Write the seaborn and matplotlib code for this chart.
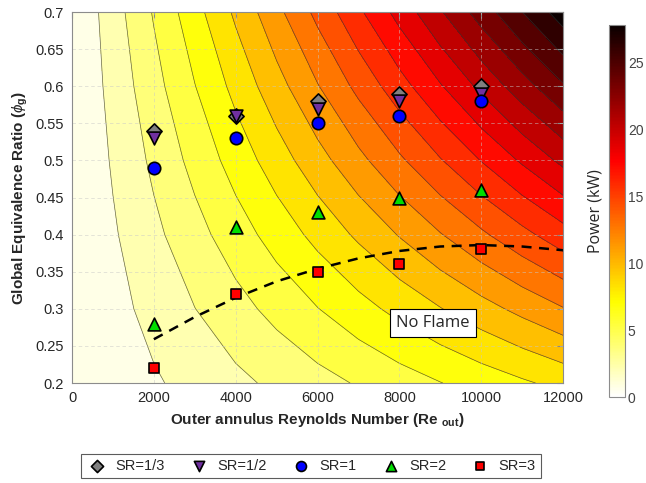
import numpy as np
import pandas as pd
import matplotlib
matplotlib.use("Agg")
import matplotlib.pyplot as plt
import seaborn as sns
from matplotlib.colors import Normalize
from matplotlib.cm import ScalarMappable

# ---- data ----
re_vals = [2000, 4000, 6000, 8000, 10000]
sr_labels = ["SR=1/3", "SR=1/2", "SR=1", "SR=2", "SR=3"]
phi_sr13 = [0.54, 0.56, 0.58, 0.59, 0.60]
phi_sr12 = [0.53, 0.56, 0.57, 0.58, 0.59]
phi_sr1 = [0.49, 0.53, 0.55, 0.56, 0.58]
phi_sr2 = [0.28, 0.41, 0.43, 0.45, 0.46]
phi_sr3 = [0.22, 0.32, 0.35, 0.36, 0.38]

# dashed flame-limit curve
limit_re = [2000, 3000, 4000, 5000, 6000, 7000, 8000, 9000, 10000, 11000, 12000]
limit_phi = [0.259, 0.289, 0.315, 0.337, 0.354, 0.368, 0.378, 0.384, 0.386, 0.384, 0.379]

# power field (kW) ~ k * Re * phi on a coarse grid
power_max = 27.8
grid_re = np.linspace(0, 12000, 13)
grid_phi = np.linspace(0.2, 0.7, 6)
levels = np.arange(0, 28.6, 1.5)

xticks = [0, 2000, 4000, 6000, 8000, 10000, 12000]
yticks = [0.2, 0.25, 0.3, 0.35, 0.4, 0.45, 0.5, 0.55, 0.6, 0.65, 0.7]
ytick_labels = ["0.2", "0.25", "0.3", "0.35", "0.4", "0.45", "0.5", "0.55", "0.6", "0.65", "0.7"]
cbar_ticks = [0, 5, 10, 15, 20, 25]

# ---- style ----
sns.set_style("white")
plt.rcParams["font.family"] = ["Liberation Sans", "DejaVu Sans"]
plt.rcParams["mathtext.fontset"] = "custom"
plt.rcParams["mathtext.rm"] = "Liberation Sans"
plt.rcParams["mathtext.bf"] = "Liberation Sans:bold"
plt.rcParams["mathtext.it"] = "Liberation Sans:italic"

fig = plt.figure(figsize=(6.46, 4.83), dpi=100)
ax = fig.add_axes([0.1115, 0.207, 0.76, 0.768])
cax = fig.add_axes([0.9427, 0.178, 0.0248, 0.770])

RR, PP = np.meshgrid(grid_re, grid_phi)
k = power_max / (12000 * 0.7)
Z = k * RR * PP
norm = Normalize(0, power_max)
cmap = plt.get_cmap("hot_r")
ax.contourf(RR, PP, Z, levels=levels, cmap=cmap, norm=norm, zorder=0)
ax.contour(RR, PP, Z, levels=levels[1:], colors="#333333", linewidths=0.5, alpha=0.75, zorder=0.5)

# grid
for xv in xticks:
    ax.axvline(xv, color="#c8c8c8", lw=0.5, ls=(0, (5, 4)), alpha=0.7, zorder=0.8)
for yv in yticks:
    ax.axhline(yv, color="#c8c8c8", lw=0.5, ls=(0, (5, 4)), alpha=0.7, zorder=0.8)

# dashed limit line
sns.lineplot(x=limit_re, y=limit_phi, ax=ax, color="black", lw=1.8,
             linestyle=(0, (4, 3)), zorder=2, legend=False)

df = pd.DataFrame({
    "Re": re_vals * 5,
    "phi": phi_sr13 + phi_sr12 + phi_sr1 + phi_sr2 + phi_sr3,
    "SR": sum([[l] * len(re_vals) for l in sr_labels], []),
})
palette = {"SR=1/3": "#808080", "SR=1/2": "#7030a0", "SR=1": "#0000ff",
           "SR=2": "#00dd00", "SR=3": "#ff0000"}
markers = {"SR=1/3": "D", "SR=1/2": "v", "SR=1": "o", "SR=2": "^", "SR=3": "s"}
sizes = {"SR=1/3": 60, "SR=1/2": 85, "SR=1": 80, "SR=2": 85, "SR=3": 45}
for lab in sr_labels:
    sub = df[df["SR"] == lab]
    sns.scatterplot(data=sub, x="Re", y="phi", ax=ax, color=palette[lab],
                    marker=markers[lab], s=sizes[lab], edgecolor="black",
                    linewidth=1.2, zorder=3, label=lab)

ax.text(8823, 0.281, "No Flame", fontsize=12, family=["Open Sans", "DejaVu Sans"],
        ha="center", va="center", zorder=4,
        bbox=dict(boxstyle="square,pad=0.35", fc="white", ec="black", lw=0.8))

ax.set_xlim(0, 12000)
ax.set_ylim(0.2, 0.7)
ax.set_xticks(xticks)
ax.set_yticks(yticks)
ax.set_yticklabels(ytick_labels)
ax.tick_params(direction="in", length=4, labelsize=10.5, colors="#888888",
               labelcolor="#262626", top=True, right=True, pad=6)
for s in ax.spines.values():
    s.set_color("#8c8c8c")
    s.set_linewidth(0.8)
ax.set_xlabel(r"Outer annulus Reynolds Number (Re $_{\mathbf{out}}$)",
              fontsize=11, fontweight="bold", color="#262626", labelpad=4)
ax.set_ylabel(r"Global Equivalence Ratio ($\it{\phi}_{\mathbf{g}}$)",
              fontsize=11, fontweight="bold", color="#262626", labelpad=4)

leg = ax.legend(loc="center", bbox_to_anchor=(311 / 646, 1 - 466 / 483),
                bbox_transform=fig.transFigure, ncol=5, frameon=True,
                fontsize=10.5, fancybox=False, edgecolor="#333333",
                handletextpad=0.5, columnspacing=1.6, borderpad=0.35,
                markerscale=0.8, handlelength=1.5)
leg.get_frame().set_linewidth(0.8)

sm = ScalarMappable(norm=norm, cmap=cmap)
cb = fig.colorbar(sm, cax=cax)
cb.set_ticks(cbar_ticks)
cb.ax.tick_params(labelsize=10, direction="in", length=3, pad=2,
                  colors="#777777", labelcolor="#444444")
cb.outline.set_edgecolor("#8c8c8c")
cb.ax.yaxis.set_label_position("left")
cb.set_label("Power (kW)", fontsize=11.5, family=["Open Sans", "DejaVu Sans"],
             color="#262626", labelpad=4)

fig.savefig("out.png", dpi=100)
